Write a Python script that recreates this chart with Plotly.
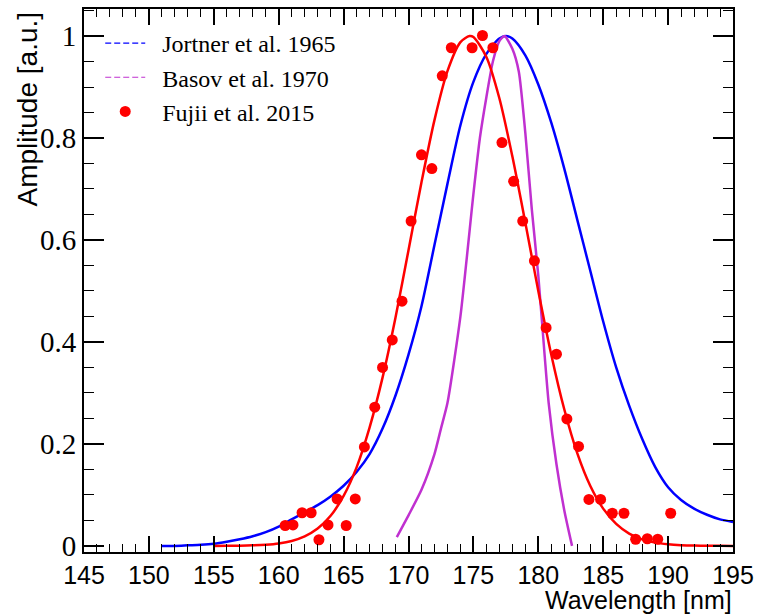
import plotly.graph_objects as go

# Jortner et al. 1965 (blue curve)
jortner_x = [151, 152, 153, 154, 155, 156, 157, 158, 159, 160, 161, 162, 163, 164, 165, 166, 167,
             168, 169, 170, 171, 172, 173, 174, 175, 176, 177, 177.5, 178, 179, 180, 181, 182, 183,
             184, 185, 186, 187, 188, 189, 190, 191, 192, 193, 194, 195]
jortner_y = [0.0, 0.0, 0.001, 0.002, 0.004, 0.008, 0.013, 0.019, 0.027, 0.038, 0.052, 0.066, 0.08,
             0.097, 0.118, 0.145, 0.18, 0.23, 0.295, 0.375, 0.47, 0.59, 0.71, 0.825, 0.91, 0.965,
             0.995, 1.0, 0.995, 0.962, 0.905, 0.83, 0.74, 0.64, 0.54, 0.44, 0.35, 0.275, 0.21,
             0.155, 0.115, 0.09, 0.073, 0.061, 0.052, 0.047]

# Basov et al. 1970 (magenta curve)
basov_x = [169.1, 170, 171, 172, 172.5, 173, 174, 175, 175.5, 176, 176.5, 177, 177.4, 178, 178.5,
           179, 179.5, 180, 180.5, 180.8, 181.4, 182, 182.6]
basov_y = [0.017, 0.06, 0.11, 0.18, 0.23, 0.28, 0.45, 0.69, 0.80, 0.88, 0.95, 0.99, 1.0, 0.975,
           0.93, 0.81, 0.66, 0.53, 0.37, 0.28, 0.16, 0.07, 0.0]

# Fujii et al. 2015 (data points)
fujii_x = [160.5, 161.1, 161.8, 162.5, 163.1, 163.8, 164.5, 165.2, 165.9, 166.6, 167.4, 168.0,
           168.75, 169.5, 170.2, 171.0, 171.8, 172.6, 173.3, 174.9, 175.7, 176.5, 177.2, 178.1,
           178.8, 179.7, 180.6, 181.4, 182.2, 183.1, 183.9, 184.8, 185.7, 186.6, 187.5, 188.4,
           189.2, 190.2]
fujii_y = [0.040, 0.041, 0.065, 0.065, 0.012, 0.041, 0.092, 0.040, 0.092, 0.194, 0.272, 0.350,
           0.404, 0.480, 0.637, 0.767, 0.740, 0.922, 0.977, 0.977, 1.001, 0.977, 0.791, 0.715,
           0.637, 0.559, 0.428, 0.376, 0.249, 0.195, 0.091, 0.091, 0.064, 0.064, 0.013, 0.014,
           0.013, 0.064]

# Fit to Fujii data (red curve)
fit_x = [155, 156, 157, 158, 159, 160, 161, 162, 163, 164, 165, 166, 167, 168, 169, 170, 171, 172,
         173, 174, 174.7, 175, 176, 177, 178, 179, 180, 181, 182, 183, 184, 185, 186, 187, 188, 189,
         190, 191, 192, 193, 194, 195]
fit_y = [0.0, 0.0002, 0.0004, 0.001, 0.0023, 0.0048, 0.0097, 0.0187, 0.034, 0.059, 0.098, 0.154,
         0.232, 0.330, 0.448, 0.580, 0.713, 0.835, 0.931, 0.988, 1.0, 0.998, 0.959, 0.878, 0.764,
         0.634, 0.500, 0.375, 0.268, 0.182, 0.118, 0.073, 0.043, 0.024, 0.0127, 0.0064, 0.0031,
         0.0014, 0.0006, 0.0003, 0.0001, 0.0]

BLUE = "#0000ff"
MAG = "#c030d0"
RED = "#ff0000"
PAD = "\u00a0\u00a0"

fig = go.Figure()
fig.add_trace(go.Scatter(x=jortner_x, y=jortner_y, mode="lines",
                         line=dict(color=BLUE, width=2.5, shape="spline", smoothing=0.8),
                         showlegend=False))
fig.add_trace(go.Scatter(x=basov_x, y=basov_y, mode="lines",
                         line=dict(color=MAG, width=2.5, shape="spline", smoothing=0.6),
                         showlegend=False))
fig.add_trace(go.Scatter(x=fit_x, y=fit_y, mode="lines",
                         line=dict(color=RED, width=2.5, shape="spline", smoothing=0.8),
                         showlegend=False))
fig.add_trace(go.Scatter(x=fujii_x, y=fujii_y, mode="markers", marker=dict(color=RED, size=11),
                         showlegend=False))
# legend entries
fig.add_trace(go.Scatter(x=[None], y=[None], mode="lines", name=PAD + "Jortner et al. 1965",
                         line=dict(color=BLUE, width=1.2, dash="6px,3px")))
fig.add_trace(go.Scatter(x=[None], y=[None], mode="lines", name=PAD + "Basov et al. 1970",
                         line=dict(color=MAG, width=1.2, dash="6px,3px")))
fig.add_trace(go.Scatter(x=[None], y=[None], mode="markers", name=PAD + "Fujii et al. 2015",
                         marker=dict(color=RED, size=11)))

fig.update_layout(
    width=761, height=616,
    margin=dict(l=84, r=28, t=7, b=64),
    paper_bgcolor="white", plot_bgcolor="white",
    showlegend=True,
    legend=dict(x=0.025, y=0.978, xanchor="left", yanchor="top", bgcolor="rgba(0,0,0,0)",
                font=dict(family="Liberation Serif", size=24, color="black"),
                itemwidth=40, tracegroupgap=0),
    xaxis=dict(range=[145, 195], showgrid=False, zeroline=False, showline=True, linecolor="black",
               linewidth=2, mirror="allticks", ticks="inside", ticklen=16, tickwidth=1.5,
               tickcolor="black", tick0=145, dtick=5,
               tickfont=dict(family="Liberation Sans", size=25, color="black"),
               minor=dict(ticks="inside", ticklen=8, tickwidth=1.2, tickcolor="black", dtick=1,
                          showgrid=False)),
    yaxis=dict(range=[-0.012, 1.053], showgrid=False, zeroline=False, showline=True,
               linecolor="black", linewidth=2, mirror="allticks", ticks="inside", ticklen=20,
               tickwidth=1.5, tickcolor="black",
               tickvals=[0, 0.2, 0.4, 0.6, 0.8, 1.0], ticktext=["0", "0.2", "0.4", "0.6", "0.8", "1"],
               tickfont=dict(family="Liberation Serif", size=29, color="black"),
               minor=dict(ticks="inside", ticklen=10, tickwidth=1.2, tickcolor="black", dtick=0.05,
                          tick0=0, showgrid=False)),
    annotations=[
        dict(text="Wavelength [nm]", xref="paper", yref="paper", x=1.0, y=-0.1165,
             xanchor="right", yanchor="bottom", showarrow=False, borderpad=0,
             font=dict(family="Liberation Sans", size=25, color="black")),
        dict(text="Amplitude [a.u.]", xref="paper", yref="paper", x=-0.0863, y=1.0,
             xanchor="center", yanchor="top", textangle=-90, showarrow=False,
             font=dict(family="Liberation Sans", size=28, color="black")),
    ],
)

fig.write_html("out.html")
